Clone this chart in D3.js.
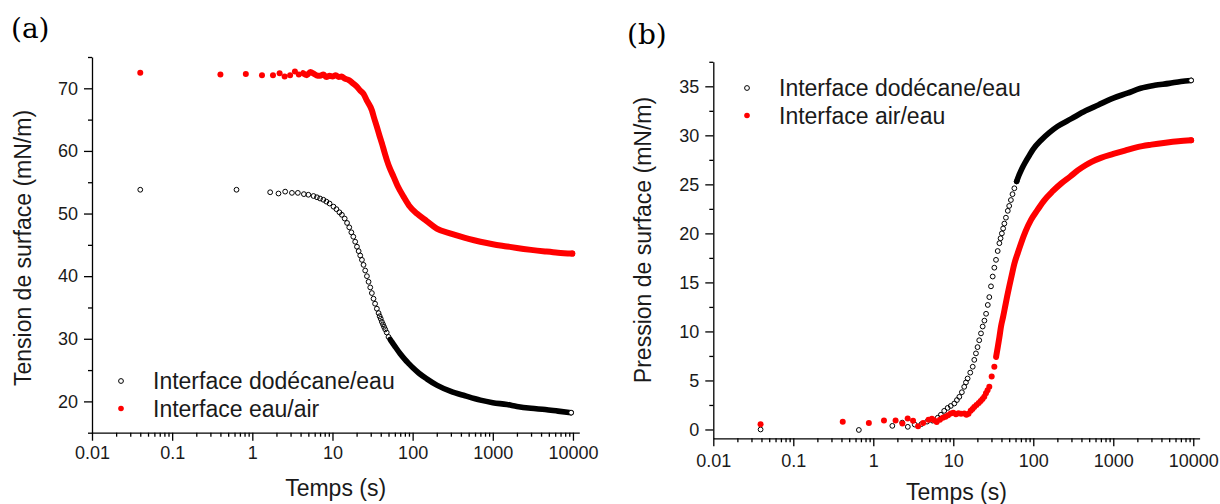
<!DOCTYPE html>
<html>
<head>
<meta charset="utf-8">
<script src="https://cdn.jsdelivr.net/npm/d3@7"></script>
<style>
body { margin: 0; background: #fff; }
text { font-family: "Liberation Sans", Arial, sans-serif; }
</style>
</head>
<body>
<div id="chart"></div>
<script>
// ---- data ----
// (a) tension de surface vs temps
const timeA_dod = [0.04, 0.635, 1.67, 2.12, 2.57, 3.12, 3.7, 4.4, 5.0, 5.8, 6.4, 7.0, 7.7, 8.4, 9.2, 10.3, 11.2, 12.2, 13.1, 14.2,
  15.2, 16.2, 17.2, 18.2, 19.2, 20.2, 21.2, 22.2, 23.3, 24.4, 25.6, 26.9, 28.2, 29.6, 31, 32.5, 34, 35.8, 37.6, 38.8,
  40, 41.3, 42.7, 44, 45.5, 47.5, 50, 52.5, 55, 60, 70, 80, 90, 100, 120, 150, 200, 300, 450, 700,
  1000, 1500, 2000, 3000, 4500, 6500, 9500];
const tensA_dod = [53.8, 53.8, 53.4, 53.2, 53.5, 53.3, 53.3, 53.1, 53.0, 52.8, 52.6, 52.4, 52.2, 51.9, 51.6, 51.1, 50.7, 50.2, 49.8, 49.2,
  48.5, 47.8, 47.0, 46.3, 45.5, 44.7, 44.0, 43.3, 42.6, 41.8, 40.9, 40.0, 39.1, 38.2, 37.3, 36.4, 35.6, 34.8, 34.1, 33.6,
  33.2, 32.7, 32.3, 31.9, 31.5, 31.0, 30.3, 29.9, 29.5, 28.8, 27.6, 26.7, 26.0, 25.4, 24.5, 23.6, 22.6, 21.6, 20.9, 20.2,
  19.8, 19.5, 19.2, 18.9, 18.7, 18.45, 18.2];

const timeA_air = [0.04, 0.40, 0.83, 1.32, 1.81, 2.19, 2.53, 2.96, 3.4, 3.8, 4.3, 4.8, 5.3, 5.9, 6.5, 7.0, 7.7, 8.4, 9.2, 10,
  11, 12, 13, 14, 16, 18, 20, 22, 24.4, 27, 31, 33, 35.9, 38.5, 41.4, 44.5, 47.8, 52, 57.8, 65,
  77, 90, 113, 150, 200, 300, 400, 500, 700, 1000, 1500, 2000, 3000, 4500, 6500, 9800];
const tensA_air = [72.5, 72.2, 72.3, 72.1, 72.1, 72.4, 71.9, 72.1, 72.7, 72.2, 72.4, 72.1, 72.6, 72.3, 72.0, 72.0, 72.2, 71.8, 72.0, 71.9,
  72.1, 71.8, 71.9, 71.6, 71.3, 70.8, 70.3, 69.7, 69.1, 68.0, 66.5, 65.3, 63.8, 62.5, 61.2, 59.8, 58.5, 57.2, 55.9, 54.4,
  52.7, 51.3, 50.0, 48.8, 47.6, 46.8, 46.3, 45.95, 45.5, 45.1, 44.75, 44.5, 44.2, 43.95, 43.75, 43.6];

// (b) pression de surface vs temps
const timeB_dod = [0.039, 0.66, 1.73, 2.3, 2.7, 3.3, 4.0, 4.7, 5.5, 6.4, 7.0, 7.7, 8.5, 9.3, 10.3, 11.1, 11.9, 12.8, 13.7, 14.4,
  15.1, 16.3, 17.5, 18.3, 19.2, 20.1, 21.1, 22.2, 23.3, 24.5, 25.7, 27, 28.2, 29.6, 31.1, 32.6, 34.2, 35.9, 37.7, 39,
  40.5, 42, 43.5, 45.5, 48, 50, 52.5, 55, 58, 62, 66, 72, 80, 90, 100, 125, 160, 200, 300, 450,
  650, 1000, 1500, 2200, 3300, 5000, 7000, 9400];
const presB_dod = [0.0, -0.05, 0.37, 0.7, 0.27, 0.5, 0.55, 0.8, 0.9, 1.2, 1.5, 1.9, 2.2, 2.4, 2.65, 3.0, 3.33, 3.8, 4.35, 4.8,
  5.2, 5.8, 6.4, 7.1, 7.76, 8.4, 9.1, 9.8, 10.5, 11.1, 11.8, 12.7, 13.5, 14.6, 15.6, 16.5, 17.3, 18.2, 19.0, 19.5,
  20.0, 20.5, 21.0, 21.6, 22.3, 22.8, 23.4, 24.0, 24.6, 25.3, 25.9, 26.6, 27.3, 28.0, 28.6, 29.5, 30.3, 30.9, 31.7, 32.5,
  33.1, 33.8, 34.3, 34.8, 35.1, 35.3, 35.5, 35.6];

const timeB_air = [0.039, 0.415, 0.88, 1.36, 1.9, 2.31, 2.69, 3.14, 3.63, 4.2, 4.9, 5.4, 5.76, 6.2, 6.8, 7.4, 8.0, 8.6, 9.3, 10.0,
  10.8, 11.6, 12.5, 13.7, 14.6, 15.5, 16.5, 17.4, 18.3, 19.5, 20.8, 22, 23.2, 24.4, 25.6, 26.8, 28.2, 30.2, 32.6, 34.3,
  36, 37.7, 39.5, 42, 44.4, 47.2, 50.1, 54, 58, 64, 70.4, 80, 94, 113, 138, 175, 224, 290, 363, 450,
  536, 700, 1000, 1400, 2000, 3000, 4500, 6500, 9400];
const presB_air = [0.54, 0.78, 0.67, 0.92, 0.92, 0.61, 1.12, 0.88, 0.34, 0.67, 1.0, 1.1, 0.95, 0.75, 1.0, 1.2, 1.3, 1.45, 1.63, 1.7,
  1.55, 1.65, 1.6, 1.63, 1.5, 1.6, 1.9, 2.1, 2.3, 2.5, 2.7, 2.9, 3.1, 3.33, 3.7, 4.0, 4.35, 5.4, 6.4, 7.4,
  8.4, 9.4, 10.5, 11.5, 12.5, 13.6, 14.6, 15.8, 16.9, 18.0, 19.0, 20.2, 21.4, 22.4, 23.4, 24.3, 25.1, 25.8, 26.45, 26.95,
  27.3, 27.7, 28.1, 28.45, 28.8, 29.05, 29.25, 29.4, 29.5];

const xTicks = [0.01, 0.1, 1, 10, 100, 1000, 10000];
const yTicksA = [20, 30, 40, 50, 60, 70];
const yTicksB = [0, 5, 10, 15, 20, 25, 30, 35];

const w = 1220, h = 504;

const svg = d3.select("#chart")
    .append("svg")
    .attr("width", w)
    .attr("height", h);

const zip = (ts, vs) => ts.map((t, i) => ({t: t, v: vs[i]}));

// minor log ticks 2..9 in every decade
const xMinor = [];
for (let d = -2; d < 4; d++) for (let k = 2; k <= 9; k++) xMinor.push(k * Math.pow(10, d));

function drawPanel(p) {
    const g = svg.append("g");
    const x = d3.scaleLog([0.01, 12000], p.xr);
    const y = d3.scaleLinear(p.yd, p.yr);

    // minor ticks first
    const xm = g.append("g")
        .attr("transform", `translate(0,${p.yr[0]})`)
        .call(d3.axisBottom(x).tickValues(xMinor).tickSize(4).tickFormat(""));
    xm.select(".domain").remove();
    const ym = g.append("g")
        .attr("transform", `translate(${p.xr[0]},0)`)
        .call(d3.axisLeft(y).tickValues(p.yMinor).tickSize(4).tickFormat(""));
    ym.select(".domain").remove();

    g.append("g")
        .attr("transform", `translate(0,${p.yr[0]})`)
        .call(d3.axisBottom(x).tickValues(xTicks).tickSize(8).tickSizeOuter(0)
            .tickPadding(p.xPad).tickFormat(d => String(d)))
        .attr("font-size", 18).attr("font-family", "Liberation Sans, Arial, sans-serif");

    g.append("g")
        .attr("transform", `translate(${p.xr[0]},0)`)
        .call(d3.axisLeft(y).tickValues(p.yTicks).tickSize(8).tickSizeOuter(0).tickPadding(6))
        .attr("font-size", 18).attr("font-family", "Liberation Sans, Arial, sans-serif");

    g.selectAll(".domain, .tick line").attr("stroke", "#000").attr("stroke-width", 1.3);
    g.selectAll(".tick text").attr("fill", "#1a1a1a");

    // series: dense part drawn as a band, sparse part as markers
    const line = d3.line().x(d => x(d.t)).y(d => y(d.v)).curve(d3.curveMonotoneX);
    for (const s of p.series) {
        const pts = zip(s.t, s.v);
        g.append("path")
            .datum(pts.filter(d => d.t >= s.bandFrom))
            .attr("d", line)
            .attr("fill", "none")
            .attr("stroke", s.color)
            .attr("stroke-width", s.open ? 5.6 : 6)
            .attr("stroke-linecap", "round");
        const last = pts.length - 1;
        g.append("g")
            .selectAll("circle")
            .data(pts.filter((d, i) => d.t <= s.bandFrom || i === last))
            .join("circle")
            .attr("cx", d => x(d.t))
            .attr("cy", d => y(d.v))
            .attr("r", s.open ? 2.4 : 3)
            .attr("fill", d => s.open ? (d === pts[last] ? "#fff" : "none") : s.color)
            .attr("stroke", s.open ? "#000" : "none")
            .attr("stroke-width", 1);
    }

    // legend
    p.series.forEach((s, i) => {
        const ly = p.legend[1] + i * 27.5;
        g.append("circle").attr("cx", p.legend[0]).attr("cy", ly).attr("r", s.open ? 2.4 : 2.8)
            .attr("fill", s.open ? "#fff" : s.color).attr("stroke", s.open ? "#000" : "none");
        g.append("text").attr("x", p.legend[0] + 32).attr("y", ly + 8)
            .text(s.label).style("font-size", "23px").attr("fill", "#1a1a1a");
    });

    // axis titles
    g.append("text")
        .attr("x", (p.xr[0] + p.xr[1]) / 2).attr("y", p.xTitleY)
        .attr("text-anchor", "middle").style("font-size", "23px").attr("fill", "#1a1a1a")
        .text("Temps (s)");
    g.append("text")
        .attr("transform", `translate(${p.yTitle[0]},${p.yTitle[1]}) rotate(-90)`)
        .attr("text-anchor", "middle").style("font-size", "23px").attr("fill", "#1a1a1a")
        .text(p.yLabel);

    g.append("text")
        .attr("x", p.tag[0]).attr("y", p.tag[1])
        .style("font-family", "DejaVu Serif, serif").style("font-size", "28px")
        .text(p.tagText);
}

const yMinorA = [15, 25, 35, 45, 55, 65, 75];
const yMinorB = [2.5, 7.5, 12.5, 17.5, 22.5, 27.5, 32.5, 37.5];

drawPanel({
    xr: [92, 579.3], yd: [15, 75], yr: [432.7, 57],
    yTicks: yTicksA, yMinor: yMinorA, xPad: 6,
    xTitleY: 496, yTitle: [31, 248], yLabel: "Tension de surface (mN/m)",
    tag: [11, 38], tagText: "(a)",
    legend: [121, 381],
    series: [
        {t: timeA_dod, v: tensA_dod, color: "#000", open: true, bandFrom: 52, label: "Interface dodécane/eau"},
        {t: timeA_air, v: tensA_air, color: "#ff0000", open: false, bandFrom: 4, label: "Interface eau/air"}
    ]
});

drawPanel({
    xr: [713.3, 1199.6], yd: [-0.9, 37.5], yr: [438.3, 61.8],
    yTicks: yTicksB, yMinor: yMinorB, xPad: 8,
    xTitleY: 500, yTitle: [651, 240], yLabel: "Pression de surface (mN/m)",
    tag: [627, 44], tagText: "(b)",
    legend: [747, 88],
    series: [
        {t: timeB_dod, v: presB_dod, color: "#000", open: true, bandFrom: 62, label: "Interface dodécane/eau"},
        {t: timeB_air, v: presB_air, color: "#ff0000", open: false, bandFrom: 33, label: "Interface air/eau"}
    ]
});
</script>
</body>
</html>
